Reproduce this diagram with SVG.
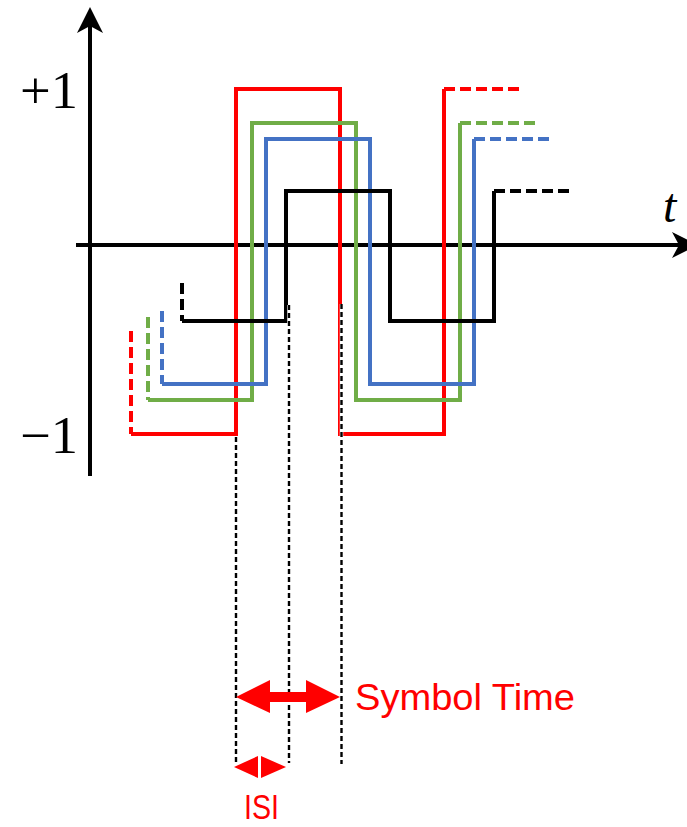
<svg xmlns="http://www.w3.org/2000/svg" width="687" height="827" viewBox="0 0 687 827">
<style>
.ax{stroke:#000;stroke-width:4;fill:none}
.sig{fill:none;stroke-width:4;stroke-linejoin:miter;stroke-linecap:butt}
.dsh{stroke-dasharray:11 5}
.r{stroke:#FF0000}
.g{stroke:#70AD47}
.b{stroke:#4472C4}
.k{stroke:#000}
.guideW{stroke:#fff;stroke-width:3.5;fill:none}
.guide{stroke:#000;stroke-width:2.4;stroke-dasharray:5 3;fill:none}
.math{font-family:"Liberation Serif","Times New Roman",serif;fill:#000}
.lbl{font-family:"Liberation Sans",Arial,sans-serif;fill:#FF0000}
</style>
<rect width="687" height="827" fill="#fff"/>
<g id="axes">
<line class="ax" x1="90" y1="476" x2="90" y2="24"/>
<polygon points="90,7 103,33 90,26 77,33" fill="#000"/>
<line class="ax" x1="76" y1="245" x2="680" y2="245"/>
<polygon points="698,245 672,258 679,245 672,232" fill="#000"/>
</g>
<g id="labels">
<text class="math" x="20" y="108" font-size="52" textLength="58" lengthAdjust="spacingAndGlyphs">+1</text>
<text class="math" x="20" y="453" font-size="52" textLength="58" lengthAdjust="spacingAndGlyphs">−1</text>
<text class="math" x="663" y="222" font-size="48" font-style="italic">t</text>
</g>
<g id="signal-red">
<path class="sig r dsh" d="M131,331 V434"/>
<path class="sig r" d="M131,434 H236 V89 H340 V434 H444 V89"/>
<path class="sig r dsh" d="M444,89 H520"/>
</g>
<g id="signal-green">
<path class="sig g dsh" d="M148,317 V400"/>
<path class="sig g" d="M148,400 H252 V123 H356 V400 H460 V123"/>
<path class="sig g dsh" d="M460,123 H536"/>
</g>
<g id="signal-blue">
<path class="sig b dsh" d="M162,311 V384"/>
<path class="sig b" d="M162,384 H266 V139 H370 V384 H474 V139"/>
<path class="sig b dsh" d="M474,139 H550"/>
</g>
<g id="signal-black">
<path class="sig k dsh" d="M182,283 V321"/>
<path class="sig k" d="M182,321 H286 V191 H390 V321 H494 V191"/>
<path class="sig k dsh" d="M494,191 H570"/>
</g>
<g id="guides">
<line class="guideW" x1="236" y1="437" x2="236" y2="764"/>
<line class="guide" x1="236" y1="437" x2="236" y2="764"/>
<line class="guideW" x1="289" y1="305" x2="289" y2="763"/>
<line class="guide" x1="289" y1="305" x2="289" y2="763"/>
<line class="guideW" x1="341.5" y1="304" x2="341.5" y2="764"/>
<line class="guide" x1="341.5" y1="304" x2="341.5" y2="764"/>
</g>
<g id="symbol-time">
<polygon points="236,697 270,680 270,692 306,692 306,680 340,697 306,713 306,702 270,702 270,713" fill="#FF0000"/>
<text class="lbl" x="355" y="710" font-size="36" textLength="220" lengthAdjust="spacingAndGlyphs">Symbol Time</text>
</g>
<g id="isi">
<polygon points="234,767 258,756 258,778" fill="#FF0000"/>
<polygon points="286,767 261,756 261,778" fill="#FF0000"/>
<text class="lbl" x="244" y="819" font-size="35" textLength="35" lengthAdjust="spacingAndGlyphs">ISI</text>
</g>
</svg>
